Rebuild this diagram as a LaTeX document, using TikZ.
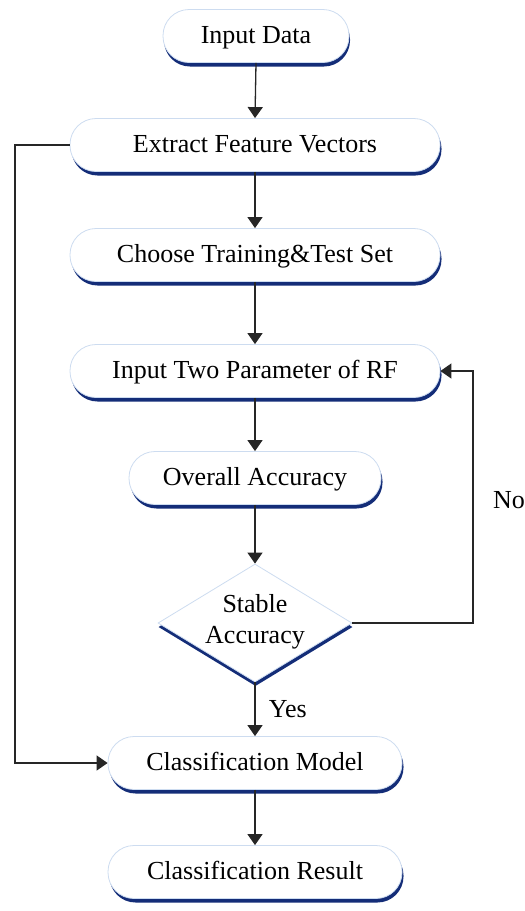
\documentclass[tikz,border=0pt]{standalone}
\usepackage{fontspec}
\setmainfont{Liberation Serif}
\usetikzlibrary{shapes.geometric,arrows.meta,positioning}
\definecolor{navy}{RGB}{20,45,120}
\definecolor{lightedge}{RGB}{205,220,240}
\begin{document}
\begin{tikzpicture}[x=1pt,y=-1pt,
  font=\fontsize{26}{30}\selectfont,
  pill/.style={rectangle, rounded corners=26pt, minimum height=53pt, text depth=0pt, text height=15pt, fill=white, draw=lightedge, line width=0.8pt, inner sep=0pt},
  pillshadow/.style={rectangle, rounded corners=26pt, minimum height=53pt, fill=navy, draw=none, inner sep=0pt},
  dia/.style={diamond, minimum width=194pt, minimum height=118pt, inner sep=0pt, fill=white, draw=lightedge, line width=0.8pt},
  diashadow/.style={diamond, minimum width=194pt, minimum height=118pt, inner sep=0pt, fill=navy, draw=none},
  conn/.style={draw=black!85, line width=1.3pt},
  arr/.style={conn, -{Triangle[length=11pt,width=15pt]}}
]
\useasboundingbox (0,0) rectangle (525,911);
% shadows
\node[pillshadow, minimum width=186pt] at (257,40) {};
\node[pillshadow, minimum width=370pt] at (256.5,149) {};
\node[pillshadow, minimum width=370pt] at (256.5,259) {};
\node[pillshadow, minimum width=370pt] at (256.5,375) {};
\node[pillshadow, minimum width=252pt] at (256.5,482) {};
\node[pillshadow, minimum width=294pt] at (256.5,767) {};
\node[pillshadow, minimum width=294pt] at (256.5,876) {};
\node[diashadow] at (255.5,627) {};
% nodes
\node[pill, minimum width=186pt] (in) at (256,36) {Input Data};
\node[pill, minimum width=370pt] (ex) at (255,145) {Extract Feature Vectors};
\node[pill, minimum width=370pt] (ch) at (255,255) {Choose Training\&Test Set};
\node[pill, minimum width=370pt] (rf) at (255,371) {Input Two Parameter of RF};
\node[pill, minimum width=252pt] (oa) at (255,478) {Overall Accuracy};
\node[dia] (st) at (255,623) {};
\node[align=center, font=\fontsize{26}{31}\selectfont] (stt) at (255,622) {Stable\\Accuracy};
\node[pill, minimum width=294pt] (cm) at (255,763) {Classification Model};
\node[pill, minimum width=294pt] (cr) at (255,872) {Classification Result};
% connectors
\draw[arr] (in.south) -- (ex.north);
\draw[arr] (ex.south) -- (ch.north);
\draw[arr] (ch.south) -- (rf.north);
\draw[arr] (rf.south) -- (oa.north);
\draw[arr] (oa.south) -- (st.north);
\draw[arr] (st.south) -- node[right=10pt, pos=0.5]{Yes} (cm.north);
\draw[arr] (cm.south) -- (cr.north);
\coordinate (l1) at (15,145);
\coordinate (l2) at (15,763);
\draw[arr] (ex.west) -- (l1) -- (l2) -- (cm.west);
\coordinate (r1) at (473,623);
\coordinate (r2) at (473,371);
\draw[arr] (st.east) -- (r1) -- (r2) -- (rf.east);
\node (no) at (509,500) {No};
\end{tikzpicture}
\end{document}
